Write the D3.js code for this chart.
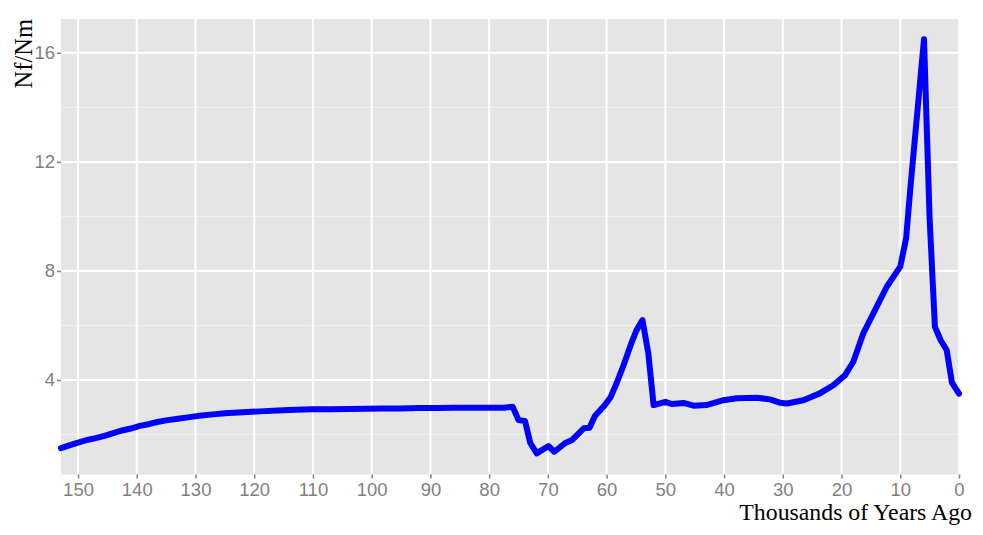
<!DOCTYPE html>
<html><head><meta charset="utf-8">
<script src="https://cdn.jsdelivr.net/npm/d3@7"></script>
<style>
body{margin:0;background:#fff;}
svg{display:block;}
</style></head>
<body>
<svg id="chart" width="983" height="535"></svg>
<script>
const years = [152.9,151.5,150,148.5,147,145.5,144,142.5,141,139.5,138,136.5,135,133,131,129,127,125,122,119,116,113,110,107,104,101,98,95,92,89,86,83,80,77.5,76,75,73.9,73,71.9,69.9,68.9,67.1,65.9,63.9,62.9,62,60.3,59.3,58.3,57.1,55.7,54.9,53.9,52.9,52,50,48.9,46.9,45.2,43,40.1,37.8,34.4,32.2,30.5,29.3,26.5,23.7,21.4,19.4,18,16.3,14.3,12.3,10,9,8.3,5.96,5,4.1,3.1,2.1,1.2,0];
const ratio = [1.50,1.60,1.70,1.80,1.87,1.95,2.05,2.15,2.22,2.32,2.38,2.46,2.52,2.58,2.64,2.70,2.74,2.78,2.82,2.85,2.88,2.91,2.93,2.93,2.94,2.95,2.96,2.96,2.97,2.97,2.98,2.98,2.98,2.98,3.02,2.53,2.50,1.69,1.31,1.58,1.37,1.68,1.80,2.23,2.25,2.68,3.08,3.38,3.88,4.55,5.40,5.83,6.20,4.98,3.08,3.20,3.12,3.16,3.06,3.08,3.26,3.33,3.35,3.29,3.17,3.14,3.26,3.51,3.81,4.18,4.67,5.71,6.56,7.42,8.16,9.2,11.0,16.5,9.9,5.95,5.45,5.1,3.9,3.5];
const xTicks = [150,140,130,120,110,100,90,80,70,60,50,40,30,20,10,0];
const yTicks = [4,8,12,16];
const yMinor = [2,6,10,14];
const xTitle = "Thousands of Years Ago";
const yTitle = "Nf/Nm";

const svg = d3.select("#chart");
const L = 61, R = 959, T = 19, B = 474.5;
const x = d3.scaleLinear().domain([152.9, 0]).range([L, R]);
const y = d3.scaleLinear().domain([0.535, 17.24]).range([B, T]);

svg.append("rect").attr("x", L).attr("y", T).attr("width", R - L).attr("height", B - T).attr("fill", "#e5e5e5");

const g = svg.append("g");
g.selectAll(".ymin").data(yMinor).join("line")
  .attr("x1", L).attr("x2", R).attr("y1", d => y(d)).attr("y2", d => y(d))
  .attr("stroke", "#f2f2f2").attr("stroke-width", 1);
g.selectAll(".ymaj").data(yTicks).join("line")
  .attr("x1", L).attr("x2", R).attr("y1", d => y(d)).attr("y2", d => y(d))
  .attr("stroke", "#ffffff").attr("stroke-width", 2);
g.selectAll(".xmaj").data(xTicks).join("line")
  .attr("y1", T).attr("y2", B).attr("x1", d => x(d)).attr("x2", d => x(d))
  .attr("stroke", "#ffffff").attr("stroke-width", 2);

const xAxis = svg.append("g").attr("transform", `translate(0,${B})`)
  .call(d3.axisBottom(x).tickValues(xTicks).tickSize(4).tickPadding(4).tickFormat(d3.format("d")));
xAxis.select(".domain").remove();
xAxis.selectAll("line").attr("stroke", "#7f7f7f").attr("stroke-width", 1.5);
xAxis.selectAll("text").attr("fill", "#7f7f7f").style("font-family", "Liberation Sans, Arial, sans-serif").style("font-size", "18.5px");

const yAxis = svg.append("g").attr("transform", `translate(${L},0)`)
  .call(d3.axisLeft(y).tickValues(yTicks).tickSize(4).tickPadding(2).tickFormat(d3.format("d")));
yAxis.select(".domain").remove();
yAxis.selectAll("line").attr("stroke", "#7f7f7f").attr("stroke-width", 1.5);
yAxis.selectAll("text").attr("fill", "#7f7f7f").style("font-family", "Liberation Sans, Arial, sans-serif").style("font-size", "18.5px");

const line = d3.line().x((d, i) => x(years[i])).y(d => y(d));
svg.append("path").datum(ratio).attr("d", line)
  .attr("fill", "none").attr("stroke", "#0000ff").attr("stroke-width", 6)
  .attr("stroke-linejoin", "round").attr("stroke-linecap", "round");

svg.append("text").attr("x", 972).attr("y", 520).attr("text-anchor", "end")
  .style("font-family", "Liberation Serif, Times New Roman, serif").style("font-size", "23.8px").attr("fill", "#000")
  .text(xTitle);
svg.append("text").attr("transform", `translate(32,19) rotate(-90)`).attr("text-anchor", "end")
  .style("font-family", "Liberation Serif, Times New Roman, serif").style("font-size", "24.5px").attr("fill", "#000")
  .text(yTitle);
</script>
</body></html>
